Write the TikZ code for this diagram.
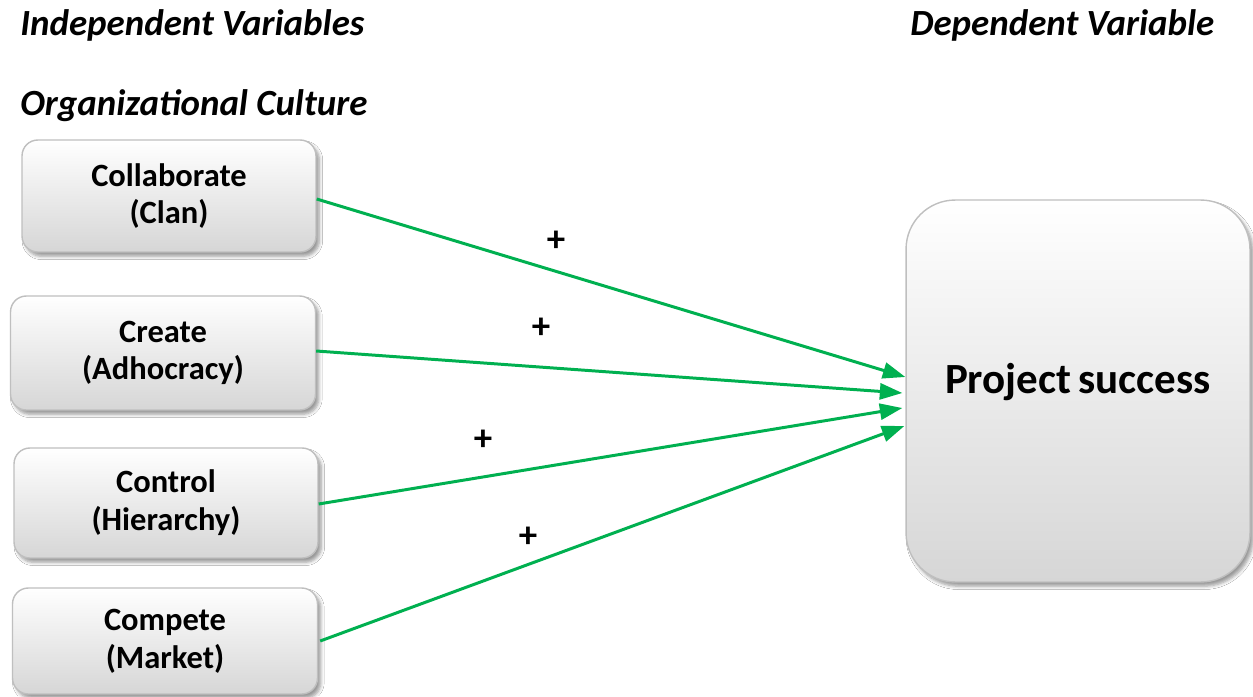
\documentclass[tikz,border=0pt]{standalone}
\usepackage{fontspec}
\setmainfont{Carlito}
\usepackage{xcolor}
\definecolor{linkGreen}{HTML}{00B050}
\definecolor{boxEdge}{HTML}{BFBFBF}
\definecolor{boxLow}{HTML}{D6D6D6}
\usepackage{tikz}
\usetikzlibrary{
    arrows.meta,
    shadows.blur,
    positioning,
    calc
}
\tikzset{
    % Heading texts above the columns
    heading/.style={
        font=\bfseries\itshape\fontsize{21}{24}\selectfont,
        anchor=west,
        inner sep=0pt,
    },
    % Culture boxes on the left
    culture/.style={
        rectangle,
        rounded corners=9pt,
        draw=boxEdge,
        line width=0.8pt,
        top color=white,
        bottom color=boxLow,
        align=center,
        font=\bfseries\fontsize{18.5}{21.5}\selectfont,
        blur shadow={
            shadow xshift=0.4ex,
            shadow yshift=-0.5ex,
            shadow blur steps=5,
            shadow opacity=40
        },
    },
    % Outcome box on the right
    outcome/.style={
        culture,
        rounded corners=28pt,
        minimum width=6.88cm,
        minimum height=7.64cm,
        font=\bfseries\fontsize{24.5}{28}\selectfont,
    },
    % Green connector
    link/.style={
        -{Triangle[length=4.5mm, width=3.2mm]},
        line width=1.7pt,
        draw=linkGreen,
    },
    % Plus sign on a connector
    sign/.style={
        font=\bfseries\fontsize{21}{24}\selectfont,
        inner sep=0pt,
    },
}

\begin{document}
\begin{tikzpicture}[x=0.02cm, y=-0.02cm]
    \fill[white] (0,0) rectangle (1253,696);

    \node (indep) [heading] at (20,25) {Independent Variables};
    \node (dep) [heading] at (910,25) {Dependent Variable};
    \node (org) [heading] at (20,106) {Organizational Culture};

    \node (clan) [culture, minimum width=5.88cm, minimum height=2.24cm] at (169,196) {Collaborate\\(Clan)};
    \node (adhoc) [culture, minimum width=6.1cm, minimum height=2.28cm] at (163,353) {Create\\(Adhocracy)};
    \node (hier) [culture, minimum width=6.08cm, minimum height=2.2cm] at (166,503) {Control\\(Hierarchy)};
    \node (market) [culture, minimum width=6.1cm, minimum height=2.12cm] at (165,641) {Compete\\(Market)};

    \node (success) [outcome] at (1078,391) {\raisebox{0.5cm}{Project\,success}};

    \coordinate (in1) at ($(success.west)+(0,-14)$);
    \coordinate (in2) at ($(success.west)+(-3,2)$);
    \coordinate (in3) at ($(success.west)+(-3,17)$);
    \coordinate (in4) at ($(success.west)+(-1,35)$);

    \draw [link] ([yshift=-0.06cm]clan.east) -- (in1);
    \draw [link] ([yshift=0.04cm]adhoc.east) -- (in2);
    \draw [link] ([yshift=-0.02cm]hier.east) -- (in3);
    \draw [link] ([xshift=0.04cm]market.east) -- (in4);

    \node (p1) [sign] at (556,241) {+};
    \node (p2) [sign] at (541,328) {+};
    \node (p3) [sign] at (483,440) {+};
    \node (p4) [sign] at (528,537) {+};
\end{tikzpicture}
\end{document}
